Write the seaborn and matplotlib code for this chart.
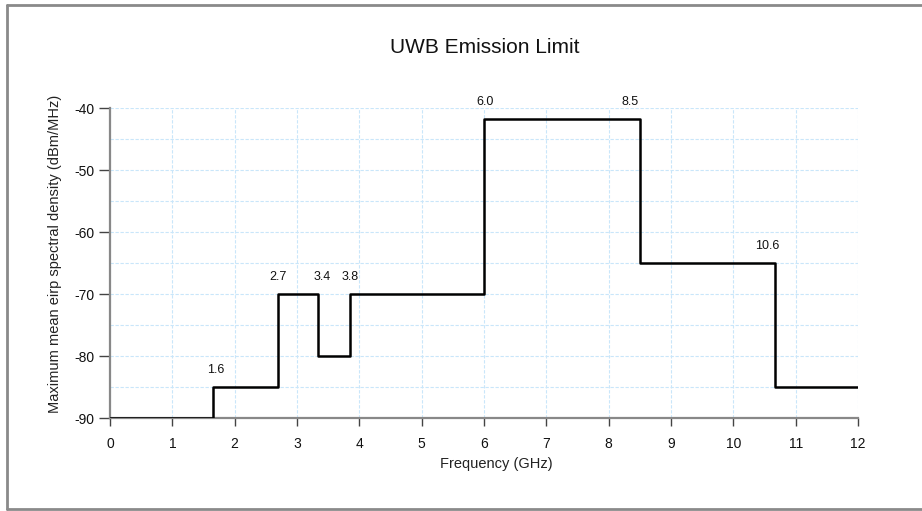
import numpy as np
import pandas as pd
import matplotlib
matplotlib.use("Agg")
import matplotlib.pyplot as plt
from matplotlib.lines import Line2D
from matplotlib.ticker import MultipleLocator
import seaborn as sns

# band edges (GHz) and the limit that starts at each edge (dBm/MHz)
freq_edges = [0, 1.65, 2.7, 3.33, 3.85, 6.0, 8.5, 10.67, 12]
limit_dbm = [-90, -85, -70, -80, -70, -41.7, -65, -85, -85]
edge_labels = ["1.6", "2.7", "3.4", "3.8", "6.0", "8.5", "10.6"]
label_freq = [1.7, 2.7, 3.4, 3.85, 6.02, 8.35, 10.55]
label_level = [-85, -70, -70, -70, -41.7, -41.7, -65]

sns.set_theme(style="white")
plt.rcParams['font.family'] = ['Liberation Sans', 'DejaVu Sans']
plt.rcParams['axes.unicode_minus'] = False

df = pd.DataFrame({'freq': freq_edges, 'limit': limit_dbm})

fig = plt.figure(figsize=(9.22, 5.11), dpi=100)
ax = fig.add_axes([110 / 922, 93 / 511, 748 / 922, 310 / 511])

sns.lineplot(data=df, x='freq', y='limit', drawstyle='steps-post',
             color='black', linewidth=1.8, ax=ax, zorder=3)

ax.set_xlim(0, 12)
ax.set_ylim(-90, -40)
ax.xaxis.set_major_locator(MultipleLocator(1))
ax.yaxis.set_major_locator(MultipleLocator(10))
ax.yaxis.set_minor_locator(MultipleLocator(5))
ax.grid(True, which='both', color='#c9e6fa', linestyle=(0, (3, 1.5)), linewidth=0.8)
ax.tick_params(axis='both', which='both', direction='out', width=1,
               color='#444444', labelsize=10, labelcolor='#111111')
ax.tick_params(axis='x', length=6, pad=8)
ax.tick_params(axis='y', which='both', length=8, pad=3)
ax.tick_params(left=True, bottom=True)

for side in ['top', 'right']:
    ax.spines[side].set_visible(False)
for side in ['left', 'bottom']:
    ax.spines[side].set_color('#888888')
    ax.spines[side].set_linewidth(1.6)

for t, xf, yl in zip(edge_labels, label_freq, label_level):
    ax.text(xf, yl + 2.7, t, ha='center', va='center', fontsize=9, color='#111111')

ax.set_xlabel('Frequency (GHz)', fontsize=10.5, color='#222222')
ax.set_ylabel('Maximum mean eirp spectral density (dBm/MHz)', fontsize=10.5, color='#222222')
ax.xaxis.set_label_coords((496 - 110) / 748, (418 - 464) / 310)
ax.xaxis.label.set_va('center')
ax.yaxis.set_label_coords((55 - 110) / 748, (418 - 254) / 310)
ax.yaxis.label.set_va('center')
ax.yaxis.label.set_ha('center')

fig.text(485 / 922, 1 - 47 / 511, 'UWB Emission Limit', ha='center', va='center',
         fontsize=15, color='#111111')

# outer frame (top, left, bottom)
fc = '#8a8a8a'
fig.add_artist(Line2D([7 / 922, 1], [1 - 5 / 511, 1 - 5 / 511], color=fc, lw=2, transform=fig.transFigure))
fig.add_artist(Line2D([7 / 922, 7 / 922], [1 - 5 / 511, 1 - 509 / 511], color=fc, lw=2, transform=fig.transFigure))
fig.add_artist(Line2D([7 / 922, 1], [1 - 509 / 511, 1 - 509 / 511], color=fc, lw=2, transform=fig.transFigure))

fig.savefig('out.png', dpi=100)
